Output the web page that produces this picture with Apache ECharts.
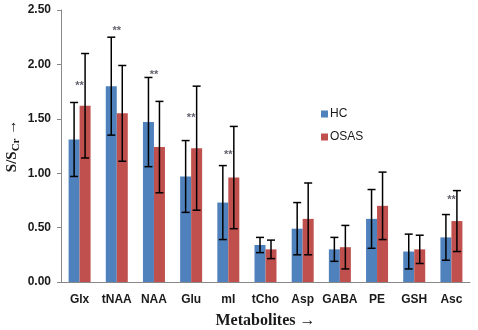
<!DOCTYPE html>
<html>
<head>
<meta charset="utf-8">
<script src="https://cdn.jsdelivr.net/npm/echarts@6/dist/echarts.min.js"></script>
<style>
  html, body { margin: 0; padding: 0; background: #fff; }
  #bar { width: 478px; height: 330px; }
</style>
</head>
<body>
<div id="bar"></div>
<script>
// 代谢物
var categories = ['Glx', 'tNAA', 'NAA', 'Glu', 'mI', 'tCho', 'Asp', 'GABA', 'PE', 'GSH', 'Asc'];
var hcMean = [1.31, 1.80, 1.47, 0.97, 0.73, 0.34, 0.49, 0.30, 0.58, 0.28, 0.41];
var hcSd = [0.34, 0.45, 0.41, 0.33, 0.34, 0.07, 0.24, 0.11, 0.27, 0.16, 0.21];
var osasMean = [1.62, 1.55, 1.24, 1.23, 0.96, 0.30, 0.58, 0.32, 0.70, 0.30, 0.56];
var osasSd = [0.48, 0.44, 0.42, 0.57, 0.47, 0.085, 0.33, 0.20, 0.31, 0.13, 0.28];
// ** 标记: [类别, 高度]
var starMarks = [['Glx', 1.80], ['tNAA', 2.31], ['NAA', 1.90], ['Glu', 1.51], ['mI', 1.17], ['Asc', 0.75]];
var yTicks = [0, 0.5, 1, 1.5, 2, 2.5];

var myChart = echarts.init(document.getElementById('bar'));

function errorData(mean, sd) {
    return mean.map(function (m, i) { return [i, m - sd[i], m + sd[i]]; });
}

function errorBar(shift) {
    return function (params, api) {
        var lo = api.coord([api.value(0), api.value(1)]);
        var hi = api.coord([api.value(0), api.value(2)]);
        var x = lo[0] + shift;
        var cap = 4;
        var style = { stroke: '#000', lineWidth: 1.5 };
        return {
            type: 'group',
            children: [
                { type: 'line', shape: { x1: x, y1: lo[1], x2: x, y2: hi[1] }, style: style },
                { type: 'line', shape: { x1: x - cap, y1: lo[1], x2: x + cap, y2: lo[1] }, style: style },
                { type: 'line', shape: { x1: x - cap, y1: hi[1], x2: x + cap, y2: hi[1] }, style: style }
            ]
        };
    };
}

var labelFont = { fontFamily: 'Liberation Sans', fontWeight: 'bold', fontSize: 12, color: '#1a1a1a' };

option = {
    animation: false,
    grid: { left: 61, right: 8, top: 10, bottom: 48, outerBoundsMode: 'none', containLabel: false },
    legend: {
        orient: 'vertical',
        left: 316,
        top: 103,
        itemWidth: 7,
        itemHeight: 7,
        itemGap: 11,
        icon: 'rect',
        textStyle: { fontFamily: 'Liberation Sans', fontSize: 12, color: '#1a1a1a', padding: [0, 0, 0, -3] },
        data: ['HC', 'OSAS']
    },
    xAxis: {
        type: 'category',
        data: categories,
        axisLine: { lineStyle: { color: '#888', width: 1 } },
        axisTick: { show: false },
        axisLabel: Object.assign({ margin: 12, interval: 0 }, labelFont),
        name: 'Metabolites \u2192',
        nameLocation: 'middle',
        nameMoveOverlap: false,
        nameGap: 31,
        nameTextStyle: { fontFamily: 'Liberation Serif', fontWeight: 'bold', fontSize: 16, color: '#1a1a1a' }
    },
    yAxis: {
        type: 'value',
        min: yTicks[0],
        max: yTicks[yTicks.length - 1],
        interval: 0.5,
        splitLine: { show: false },
        axisLine: { show: true, lineStyle: { color: '#888', width: 1 } },
        axisTick: { show: true, length: 4, lineStyle: { color: '#888' } },
        axisLabel: Object.assign({ margin: 10, formatter: function (v) { return v.toFixed(2); } }, labelFont),
        name: '{a|S/S}{s|Cr}{a| \u2192}',
        nameLocation: 'middle',
        nameMoveOverlap: false,
        nameRotate: 90,
        nameGap: 39,
        nameTextStyle: {
            rich: {
                a: { fontFamily: 'Liberation Serif', fontWeight: 'bold', fontSize: 15, color: '#1a1a1a', lineHeight: 20, verticalAlign: 'middle' },
                s: { fontFamily: 'Liberation Serif', fontWeight: 'bold', fontSize: 11, color: '#1a1a1a', lineHeight: 20, verticalAlign: 'bottom', padding: [6, 0, 0, 0] }
            }
        }
    },
    series: [{
        name: 'HC',
        type: 'bar',
        data: hcMean,
        barWidth: 11,
        barGap: '0%',
        itemStyle: { color: '#4F81BD' }
    }, {
        name: 'OSAS',
        type: 'bar',
        data: osasMean,
        barWidth: 11,
        itemStyle: { color: '#C0504D' }
    }, {
        type: 'custom',
        renderItem: errorBar(-5.5),
        data: errorData(hcMean, hcSd),
        encode: { x: 0, y: [1, 2] },
        z: 10
    }, {
        type: 'custom',
        renderItem: errorBar(5.5),
        data: errorData(osasMean, osasSd),
        encode: { x: 0, y: [1, 2] },
        z: 10
    }, {
        type: 'scatter',
        data: starMarks,
        symbolSize: 1,
        itemStyle: { color: 'rgba(0,0,0,0)' },
        label: {
            show: true,
            position: 'inside',
            formatter: '**',
            fontFamily: 'Liberation Sans',
            fontWeight: 'bold',
            fontSize: 11,
            color: '#3a3a4a'
        },
        z: 11
    }]
};
myChart.setOption(option);
</script>
</body>
</html>
